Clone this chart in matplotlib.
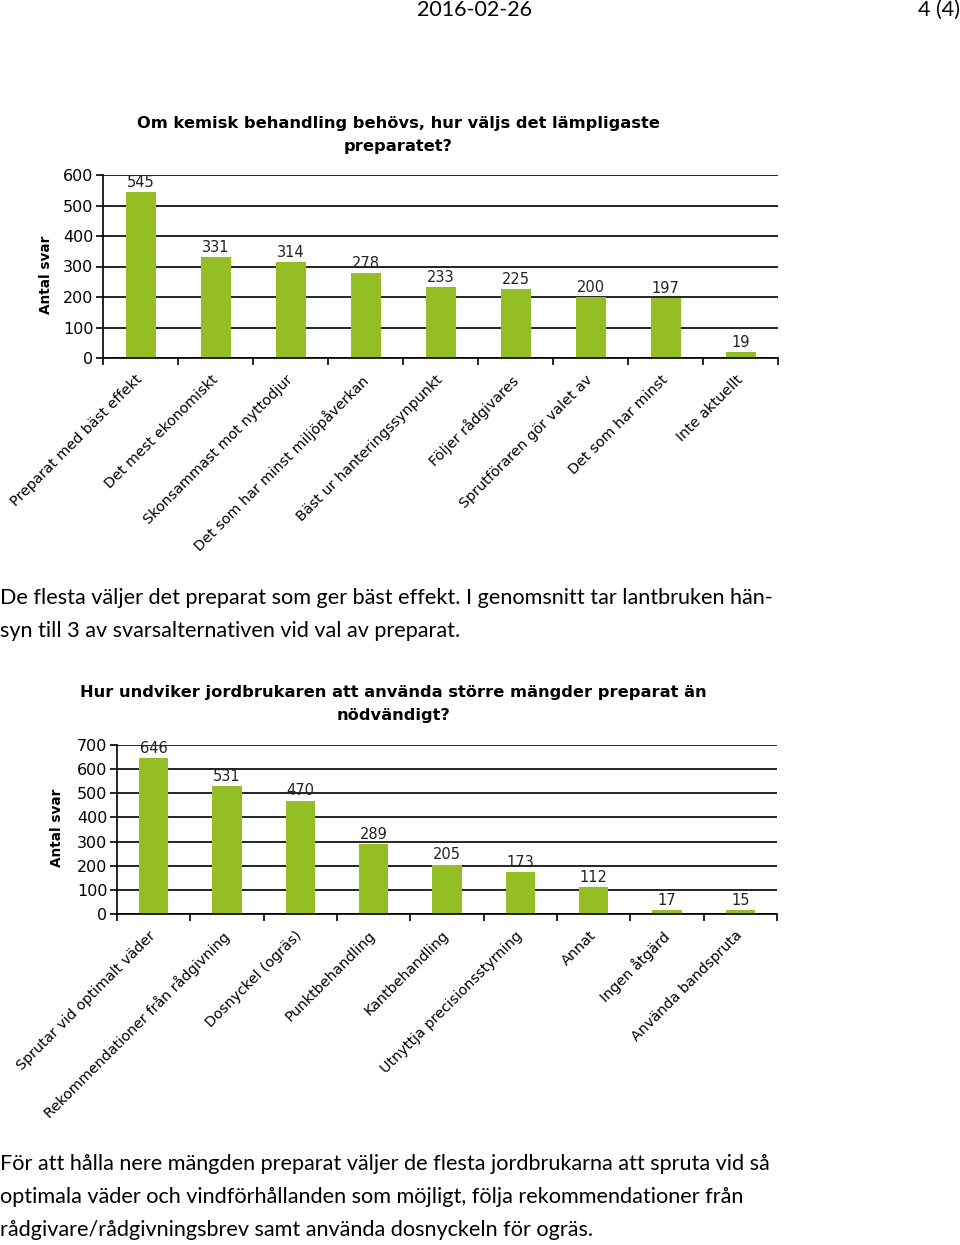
import matplotlib
matplotlib.use("Agg")
import matplotlib.pyplot as plt
import matplotlib.transforms as mtransforms
import numpy as np

W, H = 960, 1245

# chart 1 data
title1 = "Om kemisk behandling behövs, hur väljs det lämpligaste\npreparatet?"
cats1 = ["Preparat med bäst effekt", "Det mest ekonomiskt", "Skonsammast mot nyttodjur",
         "Det som har minst miljöpåverkan", "Bäst ur hanteringssynpunkt", "Följer rådgivares",
         "Sprutföraren gör valet av", "Det som har minst", "Inte aktuellt"]
vals1 = [545, 331, 314, 278, 233, 225, 200, 197, 19]
yticks1 = [0, 100, 200, 300, 400, 500, 600]

# chart 2 data
title2 = "Hur undviker jordbrukaren att använda större mängder preparat än\nnödvändigt?"
cats2 = ["Sprutar vid optimalt väder", "Rekommendationer från rådgivning", "Dosnyckel (ogräs)",
         "Punktbehandling", "Kantbehandling", "Utnyttja precisionsstyrning", "Annat",
         "Ingen åtgärd", "Använda bandspruta"]
vals2 = [646, 531, 470, 289, 205, 173, 112, 17, 15]
yticks2 = [0, 100, 200, 300, 400, 500, 600, 700]

text1 = ["De flesta väljer det preparat som ger bäst effekt. I genomsnitt tar lantbruken hän-",
         "syn till 3 av svarsalternativen vid val av preparat."]
text2 = ["För att hålla nere mängden preparat väljer de flesta jordbrukarna att spruta vid så",
         "optimala väder och vindförhållanden som möjligt, följa rekommendationer från",
         "rådgivare/rådgivningsbrev samt använda dosnyckeln för ogräs."]

GREEN = "#93bf25"
BODY = "Lato"

fig = plt.figure(figsize=(W / 100, H / 100), dpi=100)


def px_axes(left, top, right, bottom):
    return fig.add_axes([left / W, 1 - bottom / H, (right - left) / W, (bottom - top) / H])


def ftext(x, y, s, **kw):
    fig.text(x / W, 1 - y / H, s, **kw)


def bar_chart(ax, cats, vals, yticks):
    x = np.arange(len(cats))
    ax.set_axisbelow(True)
    ax.yaxis.grid(True, color="black", lw=1.2)
    ax.bar(x, vals, width=0.4, color=GREEN)
    for xi, v in zip(x, vals):
        ax.annotate(str(v), (xi, v), xytext=(0, 1.5), textcoords="offset points",
                    ha="center", va="bottom", fontsize=10.5, color="#222222")
    ax.set_xlim(-0.5, len(cats) - 0.5)
    ax.set_ylim(0, yticks[-1])
    ax.set_yticks(yticks)
    ax.tick_params(axis="y", labelsize=11.5, length=5, width=1.2, pad=2, direction="out")
    ax.set_xticks(np.arange(-0.5, len(cats)), [""] * (len(cats) + 1))
    ax.set_xticks(x, cats, minor=True)
    ax.tick_params(axis="x", which="major", length=5, width=1.2, direction="out")
    ax.tick_params(axis="x", which="minor", length=0, pad=9)
    shift = mtransforms.ScaledTranslation(-0.05, -0.02, fig.dpi_scale_trans)
    for lbl in ax.get_xticklabels(minor=True):
        lbl.set_rotation(45)
        lbl.set_ha("right")
        lbl.set_va("top")
        lbl.set_rotation_mode("anchor")
        lbl.set_fontsize(10.4)
        lbl.set_transform(lbl.get_transform() + shift)
    for s in ["top", "right"]:
        ax.spines[s].set_visible(False)
    for s in ["left", "bottom"]:
        ax.spines[s].set_linewidth(1.2)


# header
ftext(475, 10, "2016-02-26", ha="center", va="center", fontsize=15.5, family=BODY)
ftext(960, 10, "4 (4)", ha="right", va="center", fontsize=15.5, family=BODY)

# chart 1
ax1 = px_axes(103, 175, 778, 358)
bar_chart(ax1, cats1, vals1, yticks1)
ftext(398, 135, title1, ha="center", va="center", fontsize=11.7, weight="bold", linespacing=1.6)
ftext(46, 275, "Antal svar", ha="center", va="center", rotation=90, fontsize=9.8, weight="bold")

for i, line in enumerate(text1):
    ftext(0, 598 + 33 * i, line, ha="left", va="center", fontsize=15.6, family=BODY)

# chart 2
ax2 = px_axes(117, 745, 777, 914)
bar_chart(ax2, cats2, vals2, yticks2)
ftext(393, 704, title2, ha="center", va="center", fontsize=11.7, weight="bold", linespacing=1.6)
ftext(57, 828, "Antal svar", ha="center", va="center", rotation=90, fontsize=9.8, weight="bold")

for i, line in enumerate(text2):
    ftext(0, 1164 + 33 * i, line, ha="left", va="center", fontsize=15.6, family=BODY)

fig.savefig("out.png", dpi=100)
